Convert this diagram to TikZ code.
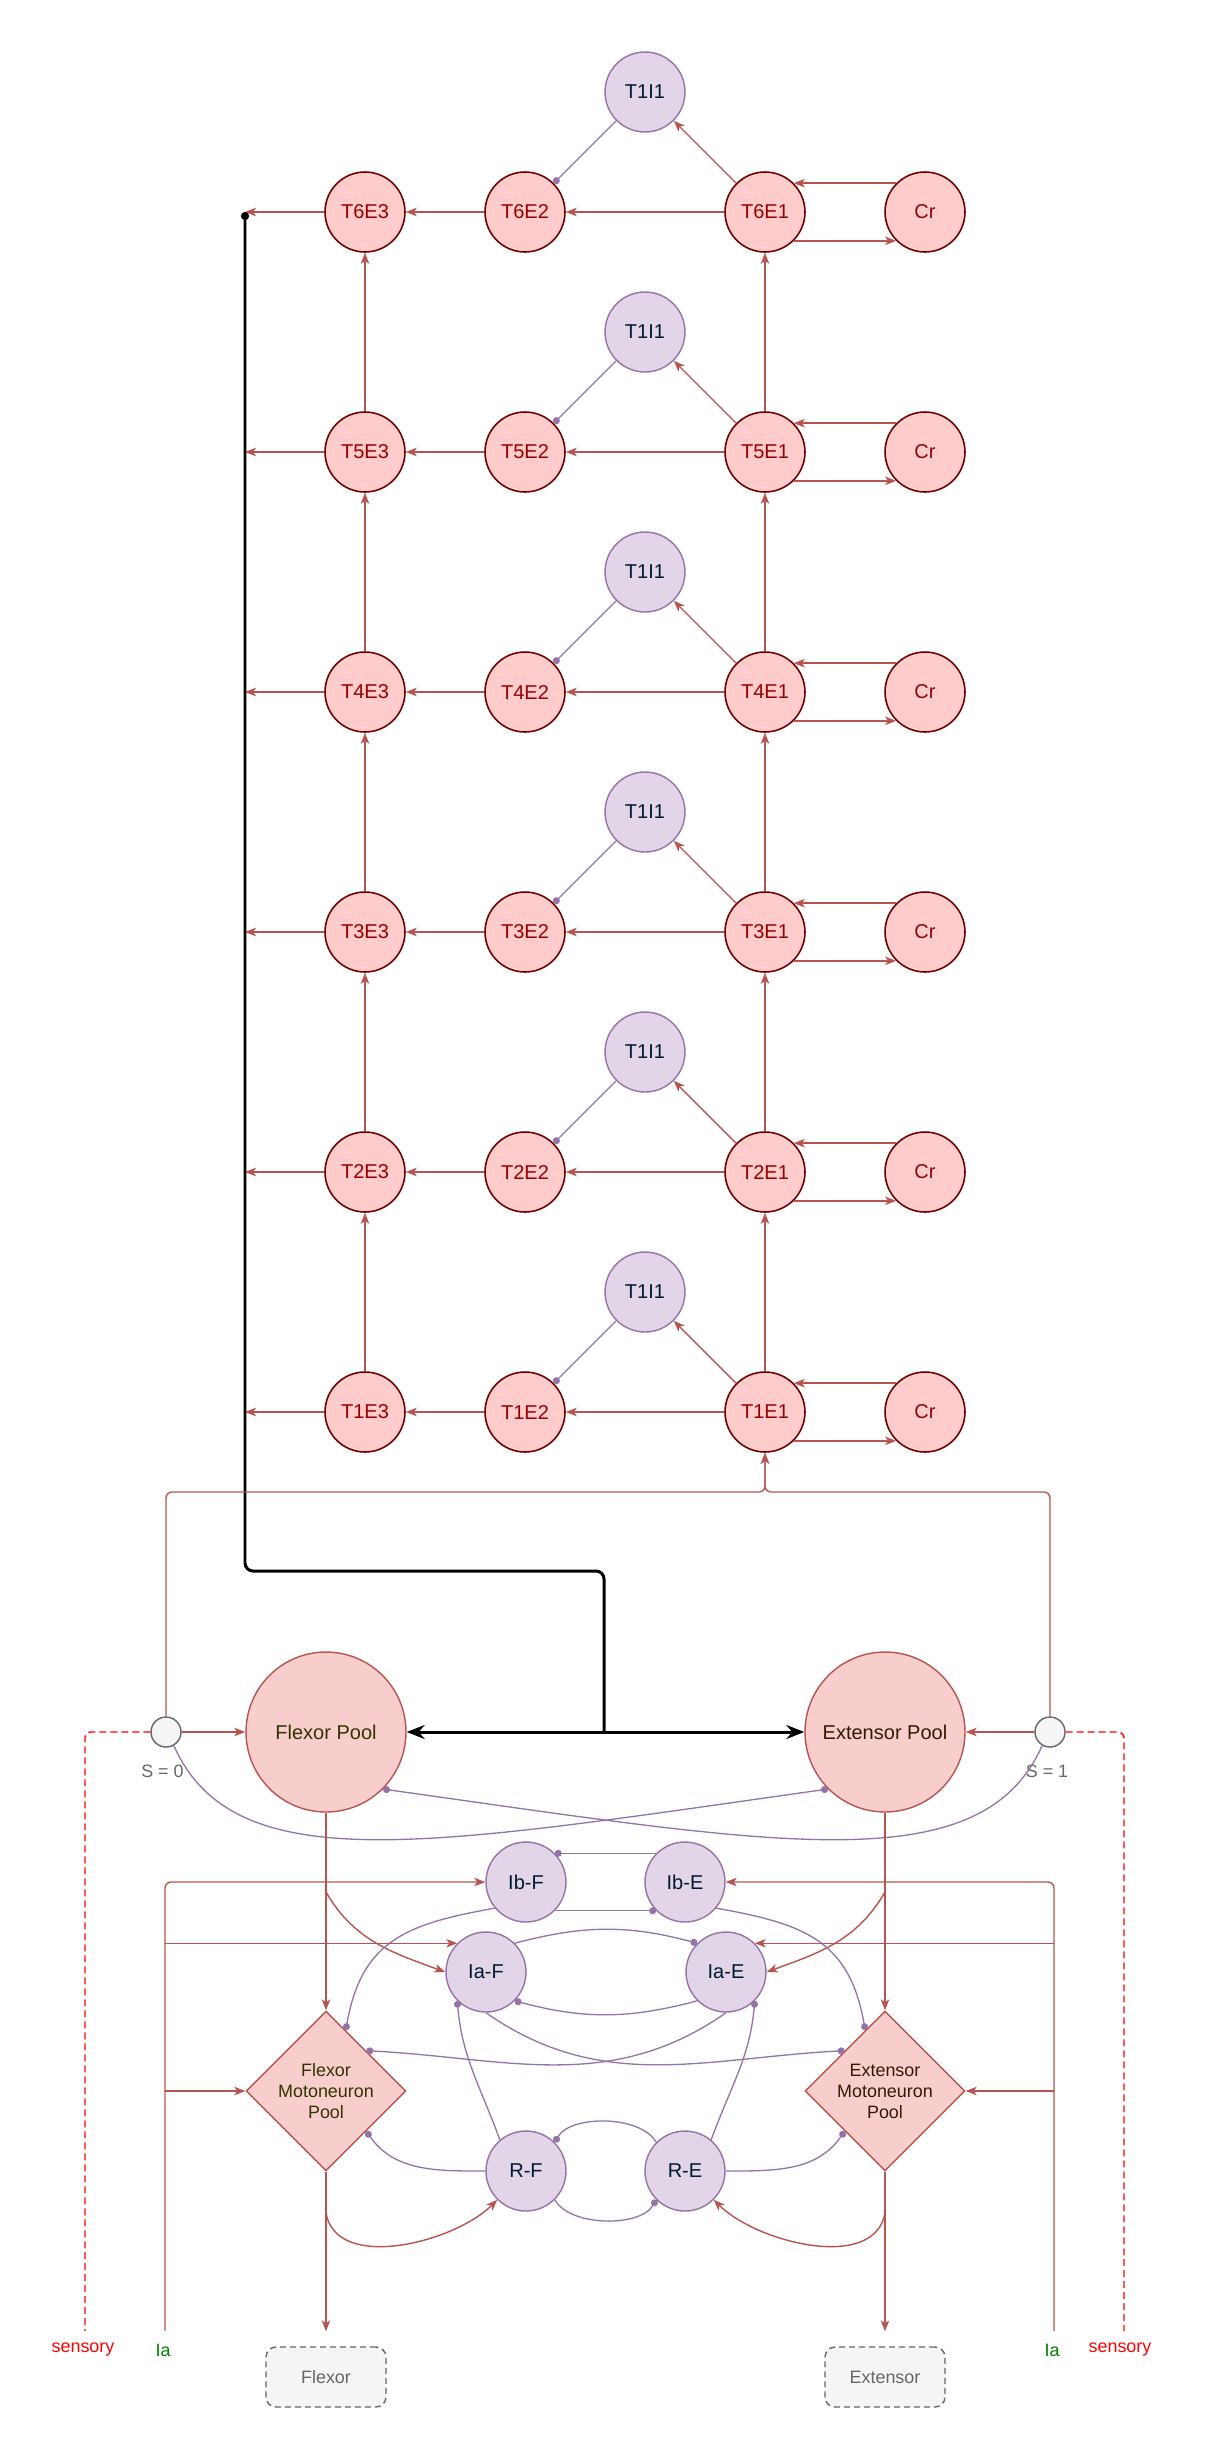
\documentclass[tikz,border=0pt]{standalone}
\usepackage{fontspec}
\setmainfont{Liberation Sans}
\usepackage{tikz}
\usetikzlibrary{calc,positioning,shapes.geometric,arrows.meta}
\definecolor{cpgRed}{HTML}{B85450}
\definecolor{cpgRedF}{HTML}{F8CECC}
\definecolor{cpgPink}{HTML}{FFCCCC}
\definecolor{cpgMaroon}{HTML}{6F0000}
\definecolor{cpgMaroonT}{HTML}{990000}
\definecolor{cpgPurple}{HTML}{9673A6}
\definecolor{cpgLilac}{HTML}{E1D5E7}
\definecolor{cpgNavy}{HTML}{001933}
\definecolor{cpgOlive}{HTML}{333300}
\definecolor{cpgBrown}{HTML}{331A00}
\definecolor{cpgGray}{HTML}{666666}
\definecolor{cpgGrayF}{HTML}{F5F5F5}
\definecolor{cpgGreen}{HTML}{007F00}
\definecolor{cpgSens}{HTML}{FF0000}
\newcommand{\fbig}{\fontsize{11.4}{13}\selectfont}
\newcommand{\fsmall}{\fontsize{10.2}{12}\selectfont}

\begin{document}
\begin{tikzpicture}[x=0.02cm,y=0.02cm,
  enode/.style={circle,draw=cpgMaroon,fill=cpgPink,line width=0.9pt,
                minimum size=1.6cm,inner sep=0pt,font=\fbig,text=cpgMaroonT},
  inode/.style={circle,draw=cpgPurple,fill=cpgLilac,line width=0.8pt,
                minimum size=1.6cm,inner sep=0pt,font=\fbig,text=cpgNavy},
  pnode/.style={circle,draw=cpgRed,fill=cpgRedF,line width=0.8pt,
                minimum size=3.2cm,inner sep=0pt,font=\fbig},
  mnode/.style={diamond,shape aspect=1,draw=cpgRed,fill=cpgRedF,line width=0.8pt,
                minimum width=3.2cm,minimum height=3.2cm,inner sep=0pt,
                font=\fsmall,align=center},
  snode/.style={circle,draw=cpgGray,fill=cpgGrayF,line width=0.8pt,
                minimum size=0.6cm,inner sep=0pt},
  onode/.style={rectangle,rounded corners=0.2cm,draw=cpgGray,fill=cpgGrayF,
                dash pattern=on 0.12cm off 0.08cm,line width=0.8pt,
                minimum width=2.4cm,minimum height=1.2cm,font=\fsmall,text=cpgGray},
  lbl/.style={font=\fsmall,inner sep=1pt},
  arr/.style={-{Stealth[length=0.22cm,width=0.17cm,inset=0.06cm]},cpgRed,line width=0.8pt},
  inh/.style={-{Circle[length=0.14cm]},cpgPurple,line width=0.75pt},
  blk/.style={black,line width=1.7pt,rounded corners=0.16cm},
  barr/.style={-{Stealth[length=0.36cm,width=0.28cm,inset=0.12cm]},black,line width=1.7pt},
  sens/.style={cpgSens,dash pattern=on 0.14cm off 0.08cm,line width=0.8pt,
               rounded corners=0.12cm}]

\useasboundingbox (0,0) rectangle (1216,-2458);

%% Chain of rows T1..T6
\foreach \n in {1,...,6}{
  \pgfmathtruncatemacro{\yy}{-1412+240*(\n-1)}
  \node[enode] (e3-\n) at (365,\yy) {T\n E3};
  \node[enode] (e2-\n) at (525,\yy) {T\n E2};
  \node[enode] (e1-\n) at (765,\yy) {T\n E1};
  \node[enode] (cr-\n) at (925,\yy) {Cr};
  \node[inode] (i1-\n) at (645,\yy+120) {T1I1};
  \coordinate (lft-\n) at (245,\yy);
  \draw[arr] (e1-\n) -- (e2-\n);
  \draw[arr] (e2-\n) -- (e3-\n);
  \draw[arr] (e3-\n) -- (lft-\n);
  \draw[arr] (e1-\n) -- (i1-\n);
  \draw[inh] (i1-\n) -- (e2-\n);
  \draw[arr] (cr-\n.135) -- (e1-\n.45);
  \draw[arr] (e1-\n.-45) -- (cr-\n.-135);
}
\foreach \n/\m in {1/2,2/3,3/4,4/5,5/6}{
  \draw[arr] (e3-\n) -- (e3-\m);
  \draw[arr] (e1-\n) -- (e1-\m);
}

%% Pools and switches
\node[pnode,text=cpgOlive] (fpool) at (326,-1732) {Flexor Pool};
\node[pnode,text=cpgBrown] (epool) at (885,-1732) {Extensor Pool};
\node[snode] (s0) at (166,-1732) {};
\node[snode] (s1) at (1050,-1732) {};
\node[lbl,text=cpgGray,below=0.3cm of s0,xshift=-0.07cm] (s0t) {S = 0};
\node[lbl,text=cpgGray,below=0.3cm of s1,xshift=-0.06cm] (s1t) {S = 1};

\coordinate (bk) at (604,-1571);
\coordinate (bj) at (604,-1732);
\draw[blk,{Circle[length=0.16cm]}-] (lft-6) |- (bk) -- (bj);
\draw[barr] (bj) -- (fpool);
\draw[barr] (bj) -- (epool);

\coordinate (jn) at (765,-1492);
\draw[arr,rounded corners=0.12cm] (s0) |- (jn) -- (e1-1);
\draw[arr,rounded corners=0.12cm] (s1) |- (jn) -- (e1-1);
\draw[arr] (s0) -- (fpool);
\draw[arr] (s1) -- (epool);

\draw[inh] (s0.-60) to[out=-66,in=188,out distance=3cm,in distance=8cm] (epool.225);
\draw[inh] (s1.-120) to[out=-114,in=-8,out distance=3cm,in distance=8cm] (fpool.-45);

%% Interneurons and motoneurons
\node[inode] (ibF) at (526,-1882) {Ib-F};
\node[inode] (ibE) at (685,-1882) {Ib-E};
\node[inode] (iaF) at (486,-1972) {Ia-F};
\node[inode] (iaE) at (726,-1972) {Ia-E};
\node[inode] (rF) at (526,-2171) {R-F};
\node[inode] (rE) at (685,-2171) {R-E};
\node[mnode,text=cpgOlive] (mnF) at (326,-2091) {Flexor\\Motoneuron\\Pool};
\node[mnode,text=cpgBrown] (mnE) at (885,-2091) {Extensor\\Motoneuron\\Pool};
\node[onode] (outF) at (326,-2377) {Flexor};
\node[onode] (outE) at (885,-2377) {Extensor};

\draw[arr] (fpool) -- (mnF);
\draw[arr] (epool) -- (mnE);
\draw[arr,shorten >=0.3cm] (mnF) -- (outF);
\draw[arr,shorten >=0.3cm] (mnE) -- (outE);

\coordinate (fb1) at (326,-1892);
\coordinate (eb1) at (885,-1892);
\coordinate (fb2) at (326,-2213);
\coordinate (eb2) at (885,-2213);
\draw[arr] (fb1) to[out=-60,in=160] (iaF.west);
\draw[arr] (eb1) to[out=-120,in=20] (iaE.east);
\draw[arr] (fb2) to[out=-80,in=225,looseness=0.9] (rF.225);
\draw[arr] (eb2) to[out=-100,in=-45,looseness=0.9] (rE.-45);

%% Inhibitory links
\draw[inh] (ibE.135) -- (ibF.45);
\draw[inh] (ibF.-45) -- (ibE.-135);
\draw[inh] (ibF.220) to[out=190,in=80,looseness=1.2] (mnF.72);
\draw[inh] (ibE.-40) to[out=-10,in=100,looseness=1.2] (mnE.108);
\draw[inh] (iaF.45) to[bend left=15] (iaE.135);
\draw[inh] (iaE.-135) to[bend left=15] (iaF.-45);
\draw[inh] (iaF.south) to[out=-35,in=183] (mnE.135);
\draw[inh] (iaE.south) to[out=-145,in=-3] (mnF.45);
\draw[inh] (rF.130) to[out=110,in=-85] (iaF.225);
\draw[inh] (rE.50) to[out=70,in=-95] (iaE.-45);
\draw[inh] (rE.135) to[out=120,in=60,looseness=0.8] (rF.45);
\draw[inh] (rF.-45) to[out=-60,in=-120,looseness=0.8] (rE.-135);
\draw[inh] (rF.west) to[out=180,in=-55] (mnF.-45);
\draw[inh] (rE.east) to[out=0,in=-125] (mnE.-135);

%% Afferent inputs
\coordinate (iaL) at (165,-2331);
\coordinate (iaR) at (1054,-2331);
\coordinate (sL) at (85,-2331);
\coordinate (sR) at (1124,-2331);
\node[lbl,text=cpgGreen] (iaLt) at (163,-2350) {Ia};
\node[lbl,text=cpgGreen] (iaRt) at (1052,-2350) {Ia};
\node[lbl,text=cpgSens] (sensL) at (83,-2350) {sensory};
\node[lbl,text=cpgSens] (sensR) at (1120,-2350) {sensory};

\draw[sens] (s0) -| (sL);
\draw[sens] (s1) -| (sR);

\draw[arr,rounded corners=0.12cm] (iaL) |- (ibF);
\draw[arr] (iaL |- iaF.135) -- (iaF.135);
\draw[arr] (iaL |- mnF) -- (mnF);
\draw[arr,rounded corners=0.12cm] (iaR) |- (ibE);
\draw[arr] (iaR |- iaE.45) -- (iaE.45);
\draw[arr] (iaR |- mnE) -- (mnE);
\end{tikzpicture}
\end{document}
